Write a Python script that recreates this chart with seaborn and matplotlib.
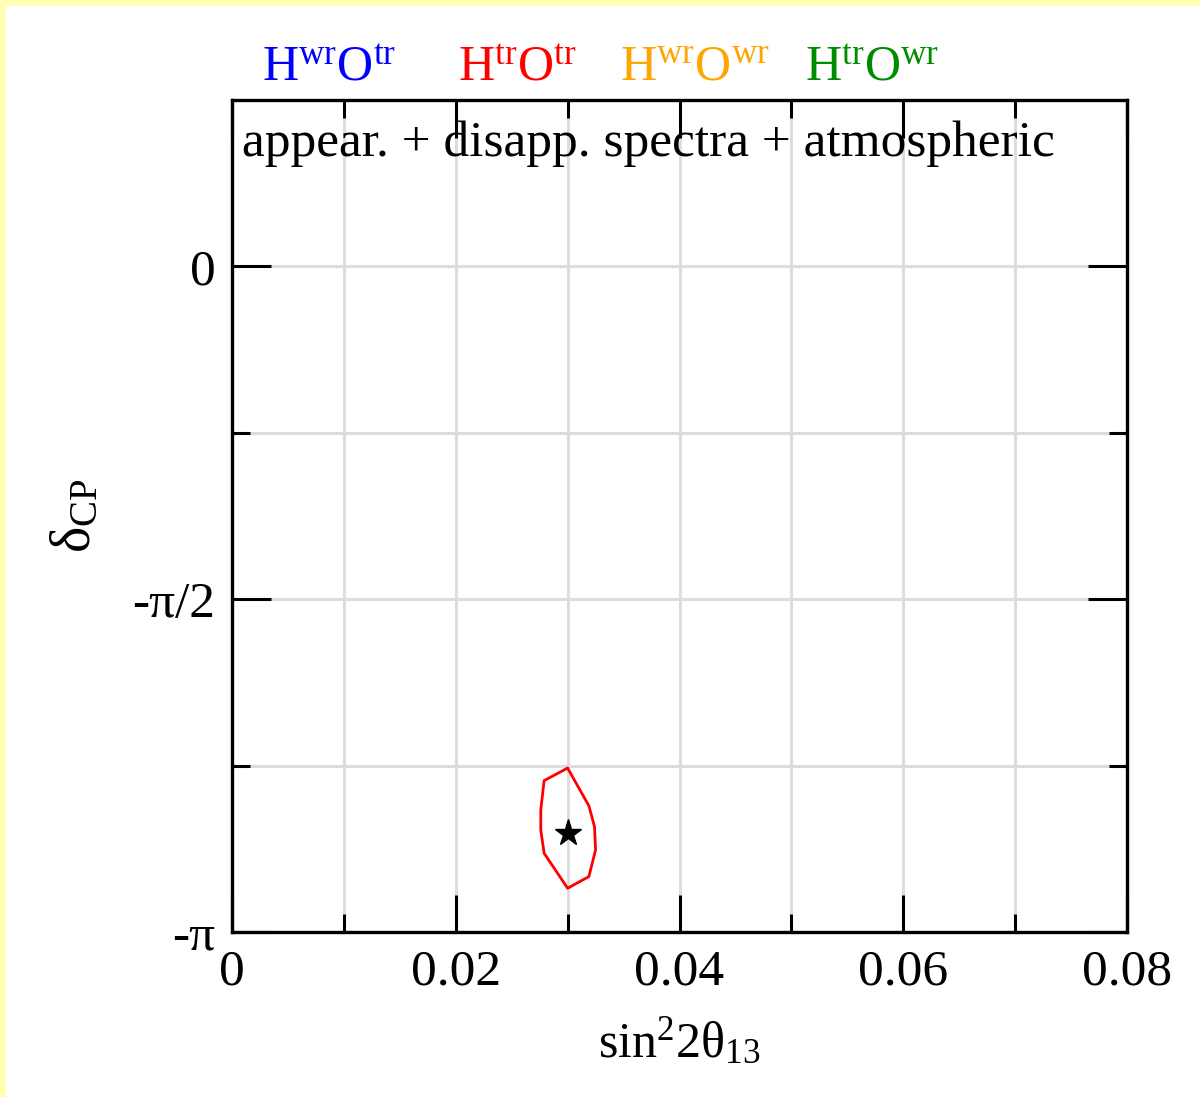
import numpy as np
import pandas as pd
import seaborn as sns
import matplotlib.pyplot as plt
from matplotlib.patches import Rectangle

# contour of the H^tr O^tr fit (sin^2 2theta13, deltaCP)
contour_x = [0.0300, 0.0279, 0.0276, 0.0276, 0.0279, 0.0300, 0.0319, 0.0325, 0.0324, 0.0319, 0.0300]
contour_y = [-2.368, -2.427, -2.565, -2.660, -2.770, -2.935, -2.880, -2.754, -2.644, -2.546, -2.368]
best_x = [0.030]
best_y = [-2.674]

legend_labels = [r'$\mathrm{H^{wr}O^{tr}}$', r'$\mathrm{H^{tr}O^{tr}}$',
                 r'$\mathrm{H^{wr}O^{wr}}$', r'$\mathrm{H^{tr}O^{wr}}$']
legend_colors = ['#0000ff', '#ff0000', '#ffa500', '#008c00']
legend_xpos = [262, 458, 620, 805]

xticks = [0, 0.02, 0.04, 0.06, 0.08]
xticklabels = ['0', '0.02', '0.04', '0.06', '0.08']
yticks = [0, -np.pi / 2, -np.pi]
yticklabels = ['0', '-π/2', '-π']

sns.set_style('white')
plt.rcParams['font.family'] = ['Liberation Serif', 'DejaVu Serif']
plt.rcParams['text.color'] = 'black'
plt.rcParams['axes.labelcolor'] = 'black'
plt.rcParams['mathtext.fontset'] = 'custom'
plt.rcParams['mathtext.rm'] = 'Liberation Serif'
plt.rcParams['mathtext.it'] = 'Liberation Serif'
plt.rcParams['mathtext.bf'] = 'Liberation Serif:bold'

W, H = 1200, 1097
fig = plt.figure(figsize=(W / 100, H / 100), dpi=100, facecolor='#ffffb4')
fig.patches.append(Rectangle((6 / W, 0), 1, 1 - 6 / H, transform=fig.transFigure,
                             facecolor='white', edgecolor='none', zorder=-10))

ax = fig.add_axes([232 / W, 1 - 932 / H, (1127 - 232) / W, (932 - 100) / H])
ax.set_zorder(2)

df = pd.DataFrame({'x': contour_x, 'y': contour_y})
sns.lineplot(data=df, x='x', y='y', sort=False, estimator=None, color='#ff0000',
             linewidth=2, ax=ax, zorder=3)
ax.plot(best_x, best_y, marker='*', color='black', markersize=20, linestyle='none', zorder=4)

ax.set_xlim(0, 0.08)
ax.set_ylim(-np.pi, np.pi / 4)
ax.set_xticks(xticks)
ax.set_xticklabels(xticklabels)
ax.set_xticks(np.arange(0.01, 0.08, 0.02), minor=True)
ax.set_yticks(yticks)
ax.set_yticklabels(yticklabels)
ax.set_yticks([-np.pi / 4, -3 * np.pi / 4], minor=True)

# grid lines sit under the tick marks (axis is drawn at zorder 0.5)
for v in np.arange(0.01, 0.08, 0.01):
    ax.axvline(v, color='#dddddd', linewidth=2.2, zorder=0.2)
for v in [0, -np.pi / 4, -np.pi / 2, -3 * np.pi / 4]:
    ax.axhline(v, color='#dddddd', linewidth=2.2, zorder=0.2)

ax.tick_params(which='both', direction='in', width=2.2, bottom=True, left=True, top=True,
               right=True, color='black', labelcolor='black')
ax.tick_params(which='major', length=27, labelsize=37, pad=12)
ax.tick_params(which='minor', length=13)
ax.tick_params(axis='y', which='major', length=28)
for s in ax.spines.values():
    s.set_linewidth(2.4)
    s.set_color('black')
    s.set_zorder(5)

ax.set_xlabel(r'$\mathrm{sin^{2}2\theta_{13}}$', fontsize=36, labelpad=16)
ax.set_ylabel(r'$\mathrm{\delta_{CP}}$', fontsize=40, labelpad=22)

ax.text(0.011, 0.975, 'appear. + disapp. spectra + atmospheric', transform=ax.transAxes,
        fontsize=37, ha='left', va='top')

for lab, col, xp in zip(legend_labels, legend_colors, legend_xpos):
    fig.text(xp / W, 1 - 80 / H, lab, color=col, fontsize=36, ha='left', va='baseline')

fig.savefig('out.png', dpi=100, facecolor=fig.get_facecolor())
